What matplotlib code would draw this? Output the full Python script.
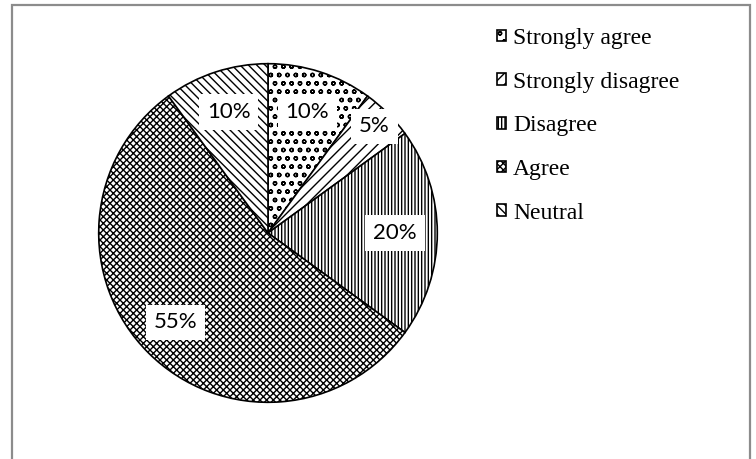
import matplotlib.pyplot as plt
from matplotlib.patches import Rectangle
import numpy as np

plt.rcParams['hatch.linewidth'] = 1.0

# datos de la grafica
categorias = ['Strongly agree', 'Strongly disagree', 'Disagree', 'Agree', 'Neutral']
porcentajes = [10, 5, 20, 55, 10]
tramas = ['oo', '///', '|||||', 'xxxxx', '\\\\\\\\']

fig = plt.figure(figsize=(7.56, 4.59), dpi=100)

# marco gris alrededor del grafico
fig.patches.append(Rectangle((11.5 / 756, -0.05), (750 - 11.5) / 756, 1.05 - 5 / 459,
                             transform=fig.transFigure, fill=False,
                             edgecolor='#8c8c8c', linewidth=1.6))

ax = fig.add_axes([97 / 756, 55 / 459, 342 / 756, 342 / 459])
cunas, textos, pcts = ax.pie(porcentajes, startangle=90, counterclock=False,
                             colors=['white'] * 5, hatch=tramas,
                             wedgeprops=dict(edgecolor='black', linewidth=1.2),
                             autopct='%d%%', pctdistance=0.75,
                             textprops=dict(family=['Lato', 'DejaVu Sans'], fontsize=16))
ax.set_xlim(-1.01, 1.01)
ax.set_ylim(-1.01, 1.01)

for t in pcts:
    t.set_bbox(dict(boxstyle='square,pad=0.35', facecolor='white', edgecolor='none'))

# Excel acomoda algunas etiquetas en otra posicion
ang = np.deg2rad(45)
pcts[1].set_position((0.89 * np.cos(ang), 0.89 * np.sin(ang)))
ang = np.deg2rad(224)
pcts[3].set_position((0.76 * np.cos(ang), 0.76 * np.sin(ang)))

fig.legend(cunas, categorias, loc='upper left', bbox_to_anchor=(497 / 756, 1 - 28 / 459),
           frameon=False, prop=dict(family='Liberation Serif', size=17),
           borderaxespad=0, borderpad=0,
           handlelength=0.38, handleheight=0.38, handletextpad=0.3, labelspacing=0.96)

plt.savefig('out.png', dpi=100)
